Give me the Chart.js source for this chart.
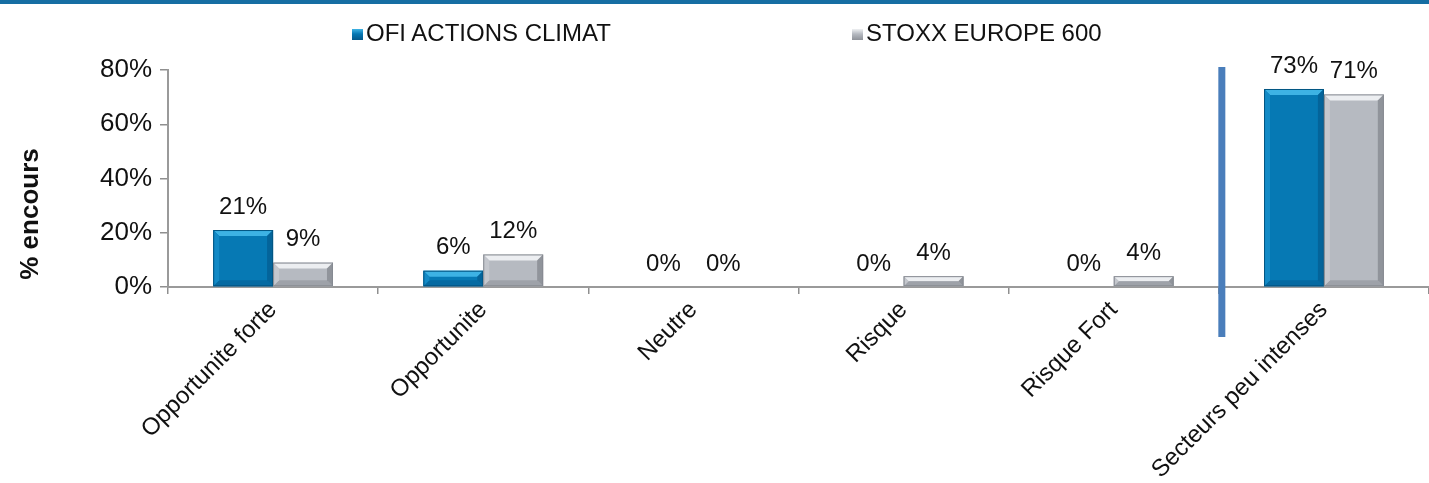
<!DOCTYPE html>
<html>
<head>
<meta charset="utf-8">
<script src="https://cdn.jsdelivr.net/npm/chart.js@4/dist/chart.umd.min.js"></script>
<style>
  html, body { margin: 0; padding: 0; background: #fff; }
  #wrap { position: relative; width: 1429px; height: 483px; overflow: hidden; font-family: "Liberation Sans", Arial, sans-serif; }
  #topline { position: absolute; left: 0; top: 0; width: 1429px; height: 4px; background: #166ea3; }
  .leg { position: absolute; top: 20px; font-size: 24px; color: #111; white-space: nowrap; line-height: 26px; }
  .leg i { display: inline-block; width: 11px; height: 11px; margin-right: 3px; vertical-align: 1px; }
  #chart { position: absolute; left: 0; top: 0; }
</style>
</head>
<body>
<div id="wrap">
  <div id="topline"></div>
  <canvas id="chart" width="1429" height="483"></canvas>
  <div class="leg" style="left:352px"><i style="background:linear-gradient(#3fb3e4,#0677b3 45%,#05588a)"></i>OFI ACTIONS CLIMAT</div>
  <div class="leg" style="left:852px"><i style="background:linear-gradient(#eef0f2,#b6bac1 45%,#8e9299)"></i>STOXX EUROPE 600</div>
</div>
<script>
// categories and series
const categories = ['Opportunite forte', 'Opportunite', 'Neutre', 'Risque', 'Risque Fort', 'Secteurs peu intenses'];
const ofiValues = [21, 6, 0, 0, 0, 73];
const stoxxValues = [9, 12, 0, 4, 4, 71];
const yTicks = [0, 20, 40, 60, 80];

const FONT = '"Liberation Sans", Arial, sans-serif';

// bevel colours per dataset: face, top, left, right, bottom
const bevels = [
  { face: '#0679b4', top: '#3db2e4', left: '#138ac6', right: '#04649a', bottom: '#056aa2', edge: '#035582' },
  { face: '#b6bac1', top: '#eceef1', left: '#c4c7cd', right: '#90949b', bottom: '#9ea2a9', edge: '#878b92' }
];

function poly(ctx, pts, color) {
  ctx.beginPath();
  ctx.moveTo(pts[0][0], pts[0][1]);
  for (let i = 1; i < pts.length; i++) ctx.lineTo(pts[i][0], pts[i][1]);
  ctx.closePath();
  ctx.fillStyle = color;
  ctx.fill();
}

// draws the raised 3D look on each bar
const bevelPlugin = {
  id: 'bevel',
  afterDatasetsDraw(chart) {
    const ctx = chart.ctx;
    chart.data.datasets.forEach((ds, di) => {
      const c = bevels[di];
      chart.getDatasetMeta(di).data.forEach((bar) => {
        const x0 = bar.x - bar.width / 2, x1 = bar.x + bar.width / 2;
        const yT = Math.min(bar.y, bar.base), yB = Math.max(bar.y, bar.base);
        const h = yB - yT;
        if (h < 0.5) return;
        const b = Math.min(6, h / 2, bar.width / 2);
        ctx.save();
        poly(ctx, [[x0, yT], [x1, yT], [x1 - b, yT + b], [x0 + b, yT + b]], c.top);
        poly(ctx, [[x0, yB], [x1, yB], [x1 - b, yB - b], [x0 + b, yB - b]], c.bottom);
        poly(ctx, [[x0, yT], [x0 + b, yT + b], [x0 + b, yB - b], [x0, yB]], c.left);
        poly(ctx, [[x1, yT], [x1 - b, yT + b], [x1 - b, yB - b], [x1, yB]], c.right);
        ctx.strokeStyle = c.edge;
        ctx.lineWidth = 1;
        ctx.strokeRect(x0 + 0.5, yT + 0.5, bar.width - 1, h - 1);
        ctx.restore();
      });
    });
  }
};

// value labels above bars, separator line and y title
const extrasPlugin = {
  id: 'extras',
  afterDraw(chart) {
    const ctx = chart.ctx;
    ctx.save();
    ctx.fillStyle = '#111';
    ctx.font = '24px ' + FONT;
    ctx.textAlign = 'center';
    ctx.textBaseline = 'middle';
    chart.data.datasets.forEach((ds, di) => {
      chart.getDatasetMeta(di).data.forEach((bar, i) => {
        ctx.fillText(ds.data[i] + '%', bar.x, bar.y - 23);
      });
    });

    const xs = chart.scales.x;
    const sepX = (xs.getPixelForValue(4) + xs.getPixelForValue(5)) / 2 + 3;
    ctx.fillStyle = '#4a7ebb';
    ctx.fillRect(sepX - 3.5, chart.chartArea.top - 3, 7, chart.chartArea.bottom - chart.chartArea.top + 53);

    ctx.translate(31, 214);
    ctx.rotate(-Math.PI / 2);
    ctx.fillStyle = '#111';
    ctx.font = 'bold 26px ' + FONT;
    ctx.fillText('% encours', 0, 0);
    ctx.restore();
  }
};

const ctx = document.getElementById('chart').getContext('2d');
new Chart(ctx, {
  type: 'bar',
  data: {
    labels: categories,
    datasets: [
      { label: 'OFI ACTIONS CLIMAT', data: ofiValues, backgroundColor: bevels[0].face },
      { label: 'STOXX EUROPE 600', data: stoxxValues, backgroundColor: bevels[1].face }
    ]
  },
  options: {
    responsive: false,
    animation: false,
    devicePixelRatio: 1,
    layout: { padding: { top: 70, right: 0, left: 0, bottom: 0 } },
    datasets: { bar: { categoryPercentage: 0.57, barPercentage: 1.0 } },
    plugins: { legend: { display: false }, tooltip: { enabled: false } },
    scales: {
      x: {
        grid: { drawOnChartArea: false, tickLength: 7, color: '#8f8f8f', lineWidth: 1.5 },
        border: { color: '#9a9a9a', width: 2 },
        ticks: { font: { family: FONT, size: 24 }, color: '#111', minRotation: 45, maxRotation: 45, padding: 2 },
        afterFit(scale) { scale.height = 196; }
      },
      y: {
        min: 0,
        max: 80,
        afterBuildTicks(scale) { scale.ticks = yTicks.map(v => ({ value: v })); },
        grid: { drawOnChartArea: false, tickLength: 8, color: '#8f8f8f', lineWidth: 1.5 },
        border: { color: '#9a9a9a', width: 2 },
        ticks: { font: { family: FONT, size: 26 }, color: '#111', padding: 8, callback: v => v + '%' },
        afterFit(scale) { scale.width = 168; }
      }
    }
  },
  plugins: [bevelPlugin, extrasPlugin]
});
</script>
</body>
</html>
